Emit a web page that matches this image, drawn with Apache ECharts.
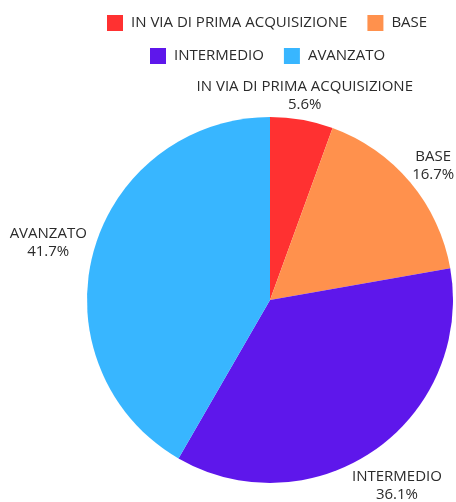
<!DOCTYPE html>
<html>
<head>
<meta charset="utf-8">
<script src="https://cdn.jsdelivr.net/npm/echarts@6/dist/echarts.min.js"></script>
<style>
  html, body { margin: 0; padding: 0; background: #fff; }
  #chart { width: 456px; height: 502px; }
</style>
</head>
<body>
<div id="chart"></div>
<script>
// Distribuzione dei livelli
const categories = ['IN VIA DI PRIMA ACQUISIZIONE', 'BASE', 'INTERMEDIO', 'AVANZATO'];
const counts = [2, 6, 13, 15];
const colors = ['#ff3131', '#ff914d', '#5e17eb', '#38b6ff'];

const FONT = 'Open Sans';
const TEXT = '#2b2b2b';
const CX = 270, CY = 300, R = 183;

// label offsets from the outer midpoint of each slice
const labelNudge = [[3, -24], [23, -17], [22, 36], [-45, -10]];

const total = counts.reduce((a, b) => a + b, 0);
const midAngles = [];
let acc = 0;
counts.forEach(v => {
  const a = (acc + v / 2) / total * Math.PI * 2;
  midAngles.push(a);
  acc += v;
});

const chart = echarts.init(document.getElementById('chart'), null, { renderer: 'canvas' });

const legendText = { fontFamily: FONT, fontSize: 15, color: TEXT, padding: [0, 0, 0, 3] };

chart.setOption({
  animation: false,
  color: colors,
  legend: [
    {
      data: categories.slice(0, 2),
      left: 107, top: 15, padding: 0,
      icon: 'rect', itemWidth: 16, itemHeight: 16, itemGap: 20,
      textStyle: legendText
    },
    {
      data: categories.slice(2),
      left: 150, top: 48, padding: 0,
      icon: 'rect', itemWidth: 16, itemHeight: 16, itemGap: 20,
      textStyle: legendText
    }
  ],
  series: [{
    type: 'pie',
    center: [CX, CY],
    radius: R,
    startAngle: 90,
    clockwise: true,
    avoidLabelOverlap: false,
    itemStyle: { borderWidth: 0 },
    label: {
      show: true,
      position: 'outside',
      formatter: p => '{t|' + p.name + '}\n{t|' + (p.value / total * 100).toFixed(1) + '%}',
      rich: {
        t: { fontFamily: FONT, fontSize: 15, color: TEXT, align: 'center', lineHeight: 18 }
      }
    },
    labelLine: { show: false },
    labelLayout: params => {
      const i = params.dataIndex;
      const a = midAngles[i];
      return {
        x: CX + R * Math.sin(a) + labelNudge[i][0],
        y: CY - R * Math.cos(a) + labelNudge[i][1],
        align: 'center',
        verticalAlign: 'middle'
      };
    },
    data: categories.map((c, i) => ({ name: c, value: counts[i] }))
  }]
});
</script>
</body>
</html>
